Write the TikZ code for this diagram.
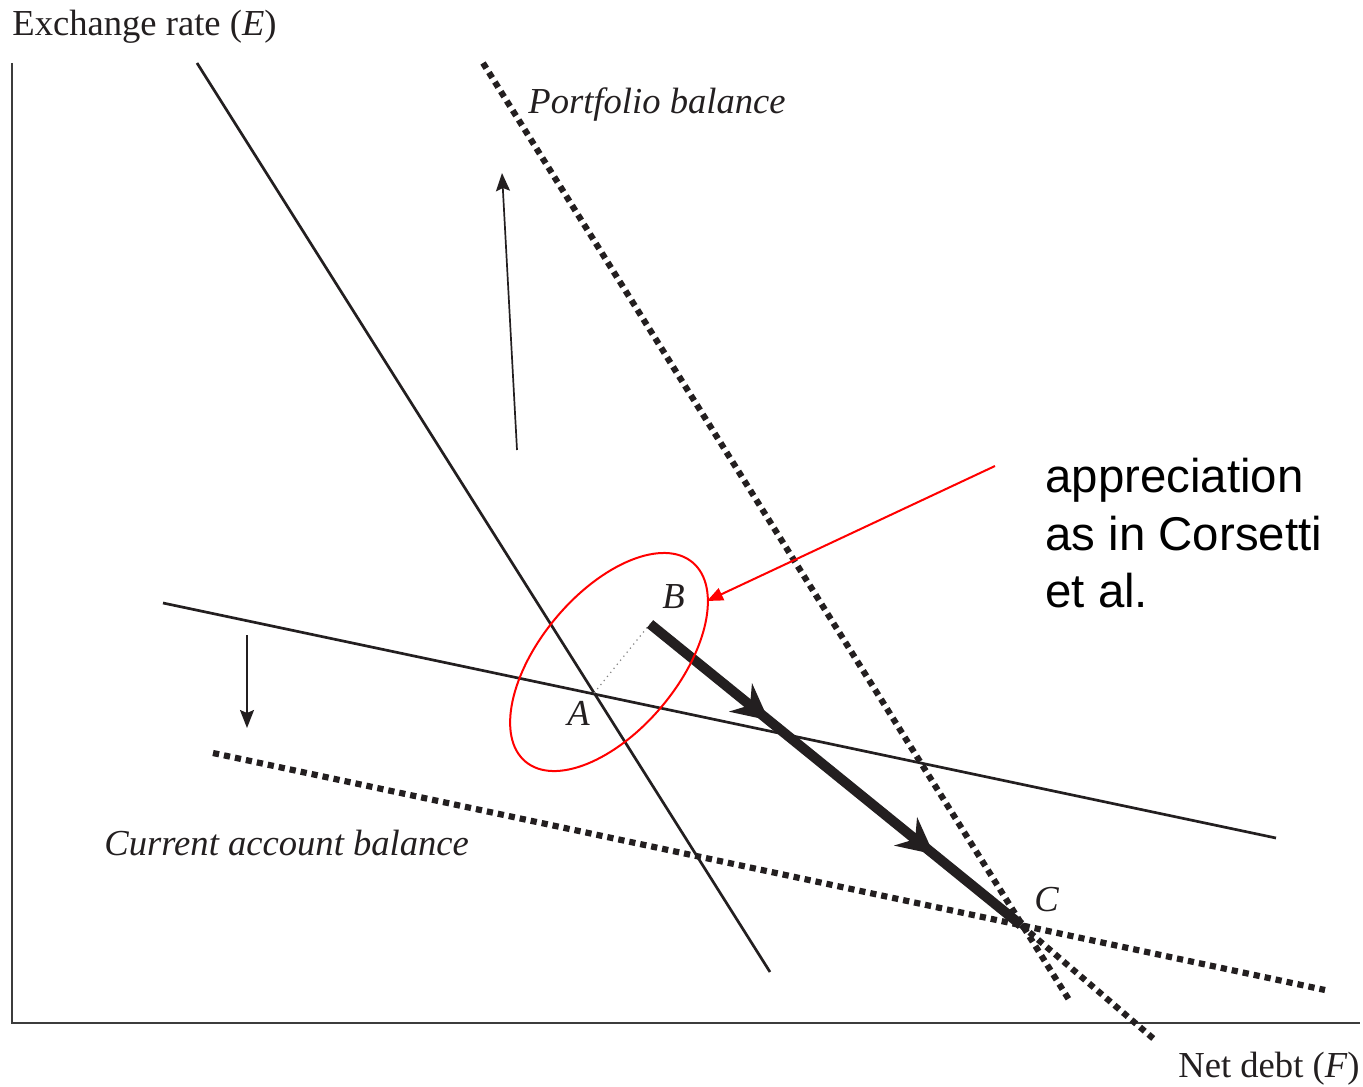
\documentclass[tikz,border=0pt]{standalone}
\usepackage{fontspec}
\setmainfont{Liberation Serif}
\newfontfamily\arialf{Liberation Sans}
\usetikzlibrary{arrows.meta,decorations.markings}
\definecolor{ink}{RGB}{35,31,32}
\definecolor{axisgray}{RGB}{60,60,60}
\begin{document}
\begin{tikzpicture}[x=0.5pt,y=0.5pt,
  lbl/.style={inner sep=0pt, anchor=base west, text=ink, font=\fontsize{18.3}{22}\selectfont},
  ann/.style={inner sep=0pt, anchor=base west, text=black, font=\arialf\fontsize{23.7}{28.75}\selectfont},
  axisline/.style={draw=axisgray, line width=0.85pt},
  solidcurve/.style={draw=ink, line width=1.35pt},
  dotcurve/.style={draw=ink, line width=3.1pt, dash pattern=on 3.1pt off 2.5pt},
  shiftarrow/.style={draw=ink, line width=0.85pt, -{Stealth[length=9pt,width=7pt,inset=1.5pt]}},
  patharrow/.style={draw=ink, line width=5pt, postaction={decorate},
    decoration={markings,
      mark=at position 0.32 with {\arrow{Stealth[length=18pt,width=18pt,inset=6pt]}},
      mark=at position 0.765 with {\arrow{Stealth[length=18pt,width=18pt,inset=6pt]}}}},
  redmark/.style={draw=red, line width=1pt}
]
\useasboundingbox (0,0) rectangle (1363,-1086);
% axes
\coordinate (yTop) at (12,-63);
\coordinate (O) at (12,-1023);
\coordinate (xEnd) at (1360,-1023);
\draw[axisline] (yTop) -- (O) -- (xEnd);
% curves
\coordinate (pb1) at (197,-63);
\coordinate (pb2) at (770,-972);
\coordinate (ca1) at (163,-603);
\coordinate (ca2) at (1276,-838);
\coordinate (pbn1) at (483,-63);
\coordinate (pbn2) at (1071,-1003);
\coordinate (can1) at (213,-753);
\coordinate (can2) at (1325,-990);
\draw[solidcurve] (pb1) -- (pb2);
\draw[solidcurve] (ca1) -- (ca2);
\draw[dotcurve] (pbn1) -- (pbn2);
\draw[dotcurve] (can1) -- (can2);
% points
\coordinate (A) at (594,-693);
\coordinate (B) at (650,-624);
\coordinate (C) at (1021,-925);
\coordinate (Cx) at (1155,-1040);
\draw[gray, line width=0.6pt, dotted] (A) -- (B);
\draw[patharrow] (B) -- (C);
\draw[dotcurve] (C) -- (Cx);
% shift arrows
\coordinate (u1) at (517,-450);
\coordinate (u2) at (502,-173);
\coordinate (d1) at (247,-635);
\coordinate (d2) at (247,-728);
\draw[shiftarrow] (u1) -- (u2);
\draw[shiftarrow] (d1) -- (d2);
% labels
\node[lbl] (ylab) at (12,-36) {Exchange rate (\textit{E})};
\node[lbl] (xlab) at (1178,-1077) {Net debt (\textit{F})};
\node[lbl, font=\itshape\fontsize{18.3}{22}\selectfont] (pblab) at (528,-113) {Portfolio balance};
\node[lbl, font=\itshape\fontsize{18.3}{22}\selectfont] (calab) at (104,-855) {Current account balance};
\node[lbl, font=\itshape\fontsize{18.3}{22}\selectfont] (Alab) at (567,-725) {A};
\node[lbl, font=\itshape\fontsize{18.3}{22}\selectfont] (Blab) at (662,-608) {B};
\node[lbl, font=\itshape\fontsize{18.3}{22}\selectfont] (Clab) at (1034,-911) {C};
% annotation
\coordinate (E0) at (609,-662);
\draw[redmark] (E0) ellipse [x radius=65pt, y radius=34.5pt, rotate=50];
\coordinate (r1) at (995,-466);
\coordinate (r2) at (707,-601);
\draw[redmark, -{Triangle[length=8pt,width=6.5pt]}] (r1) -- (r2);
\node[ann] (t1) at (1045,-492) {appreciation};
\node[ann] (t2) at (1045,-550) {as in Corsetti};
\node[ann] (t3) at (1045,-607) {et al.};
\end{tikzpicture}
\end{document}
